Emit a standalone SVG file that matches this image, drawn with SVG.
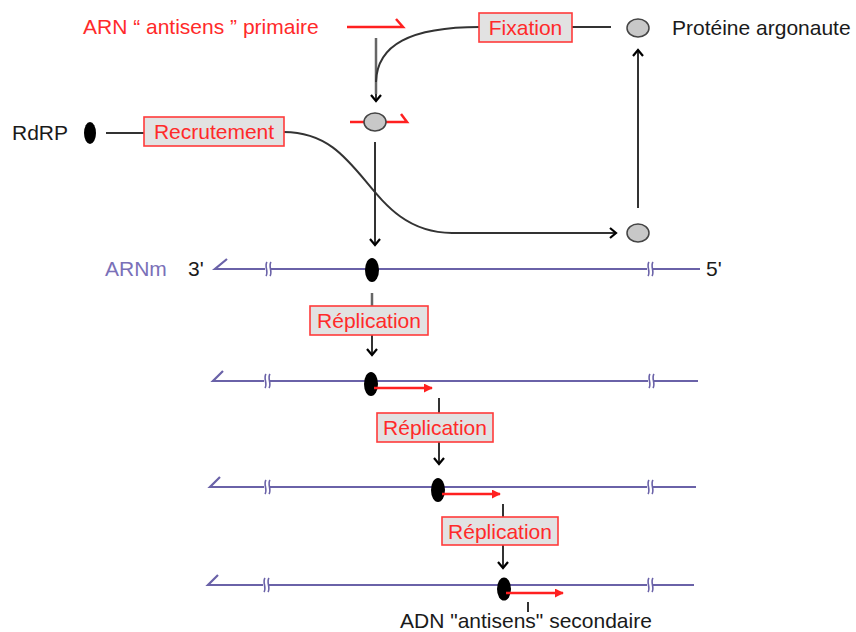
<svg xmlns="http://www.w3.org/2000/svg" width="856" height="632" viewBox="0 0 856 632">
<style>
text{font-family:"Liberation Sans",Arial,sans-serif;font-size:21px}
.red{fill:#ff2a2a}
.blk{fill:#1a1a1a}
.box{fill:#e2e2e2;stroke:#ff3b3b;stroke-width:1.6}
.conn{fill:none;stroke:#333;stroke-width:2}
.gray{fill:none;stroke:#666;stroke-width:2.5}
.strand{fill:none;stroke:#6a62a8;stroke-width:2.2}
.prot{fill:#c8c8c8;stroke:#444;stroke-width:1.5}
.rdrp{fill:#000}
.rna{fill:none;stroke:#ff2020;stroke-width:2.5}
.brk{fill:none;stroke:#6a62a8;stroke-width:1.6}
</style>
<defs>
<marker id="chev" viewBox="0 0 12 12" refX="10" refY="6" markerWidth="12" markerHeight="12" markerUnits="userSpaceOnUse" orient="auto">
<path d="M4,1 L10,6 L4,11" fill="none" stroke="#000" stroke-width="2.2"/>
</marker>
<marker id="redtri" viewBox="0 0 10 10" refX="9" refY="5" markerWidth="9" markerHeight="9" markerUnits="userSpaceOnUse" orient="auto">
<path d="M0,0 L10,5 L0,10 Z" fill="#ff2020"/>
</marker>
<g id="brk">
<rect x="-3" y="-7" width="6" height="14" fill="#fff"/>
<path class="brk" d="M-1,-7 C-4,-3 1,3 -2,7 M3,-7 C0,-3 5,3 2,7"/>
</g>
</defs>
<rect width="856" height="632" fill="#fff"/>

<g id="connectors">
<path class="gray" d="M376,38 L376,94"/>
<path class="conn" d="M376,94 L376,101" marker-end="url(#chev)"/>
<path class="conn" d="M480,27 C410,27 377,45 376,82"/>
<path class="conn" d="M572,27 L611,27" stroke="#555"/>
<path class="conn" d="M638,208 L638,50" marker-end="url(#chev)"/>
<path class="conn" d="M106,133 L144,133" stroke="#555" stroke-width="2.5"/>
<path class="conn" d="M284,132 C367,132 365,232 452,233 L616,233" marker-end="url(#chev)"/>
<path class="conn" d="M375,142 L375,245" marker-end="url(#chev)"/>
<path class="gray" d="M372,293 L372,306"/>
<path class="conn" d="M372,335 L372,355" marker-end="url(#chev)"/>
<path class="conn" d="M439,398 L439,413"/>
<path class="conn" d="M439,442 L439,464" marker-end="url(#chev)"/>
<path class="conn" d="M503,504 L503,517"/>
<path class="conn" d="M503,545 L503,568" marker-end="url(#chev)"/>
<path class="conn" d="M528,602 L528,612" stroke="#555" stroke-width="1.5"/>
</g>

<g id="arn-antisens-primaire">
<text class="red" x="83" y="34">ARN “ antisens ” primaire</text>
<path class="rna" d="M347,27 L403,27 L396,19"/>
</g>

<g id="fixation">
<rect class="box" x="479" y="13" width="93" height="29"/>
<text class="red" x="525.5" y="35" text-anchor="middle">Fixation</text>
</g>

<g id="proteine-argonaute">
<ellipse class="prot" cx="638" cy="28" rx="11" ry="9"/>
<text class="blk" x="672" y="35">Protéine argonaute</text>
</g>

<g id="complexe">
<path class="rna" d="M350,122 L407,122 L401,114"/>
<ellipse class="prot" cx="375" cy="122" rx="11" ry="9"/>
</g>

<g id="rdrp">
<text class="blk" x="12" y="140">RdRP</text>
<ellipse class="rdrp" cx="90" cy="133" rx="6" ry="11"/>
</g>

<g id="recrutement">
<rect class="box" x="144" y="117" width="140" height="29"/>
<text class="red" x="214" y="139" text-anchor="middle">Recrutement</text>
</g>

<g id="argonaute-libre">
<ellipse class="prot" cx="638" cy="233" rx="11" ry="9"/>
</g>

<g id="arnm">
<text x="105" y="276" fill="#7a70b8">ARNm</text>
<text class="blk" x="188" y="276">3'</text>
<path class="strand" d="M227,259 L215,269 L700,269"/>
<use href="#brk" x="268" y="269"/>
<use href="#brk" x="650" y="269"/>
<text class="blk" x="706" y="276">5'</text>
<ellipse class="rdrp" cx="372" cy="270" rx="7" ry="12"/>
</g>

<g id="replication-1">
<rect class="box" x="310" y="306" width="118" height="29"/>
<text class="red" x="369" y="328" text-anchor="middle">Réplication</text>
</g>

<g id="brin-2">
<path class="strand" d="M223,371 L213,381 L698,381"/>
<use href="#brk" x="267" y="381"/>
<use href="#brk" x="651" y="381"/>
<ellipse class="rdrp" cx="371" cy="384" rx="7" ry="12"/>
<path class="rna" d="M374,388 L432,388" marker-end="url(#redtri)"/>
</g>

<g id="replication-2">
<rect class="box" x="377" y="413" width="116" height="29"/>
<text class="red" x="435" y="435" text-anchor="middle">Réplication</text>
</g>

<g id="brin-3">
<path class="strand" d="M220,477 L210,487 L696,487"/>
<use href="#brk" x="267" y="487"/>
<use href="#brk" x="650" y="487"/>
<ellipse class="rdrp" cx="438" cy="490" rx="7" ry="12"/>
<path class="rna" d="M442,494 L500,494" marker-end="url(#redtri)"/>
</g>

<g id="replication-3">
<rect class="box" x="442" y="517" width="116" height="28"/>
<text class="red" x="500" y="539" text-anchor="middle">Réplication</text>
</g>

<g id="brin-4">
<path class="strand" d="M218,575 L208,585 L694,585"/>
<use href="#brk" x="266" y="585"/>
<use href="#brk" x="650" y="585"/>
<ellipse class="rdrp" cx="504" cy="589" rx="7" ry="11.5"/>
<path class="rna" d="M506,593 L563,593" marker-end="url(#redtri)"/>
</g>

<g id="adn-antisens-secondaire">
<text class="blk" x="400" y="628">ADN "antisens" secondaire</text>
</g>
</svg>
